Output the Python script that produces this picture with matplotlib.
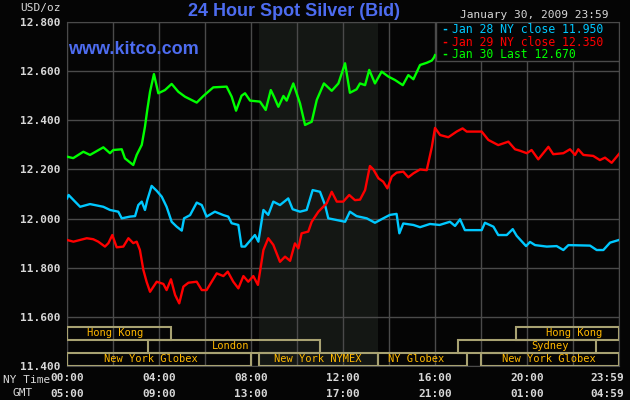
import matplotlib
matplotlib.use('Agg')
import matplotlib.pyplot as plt
from matplotlib.patches import Rectangle

# hours since 00:00 NY time, prices in USD/oz
jan28_hours = [0, 0.07, 0.35, 0.57, 1.0, 1.58, 1.87, 2.23, 2.38, 2.74, 2.96, 3.1, 3.25, 3.39, 3.49,
               3.68, 3.9, 4.12, 4.33, 4.55, 4.77, 4.99, 5.09, 5.35, 5.64, 5.86, 6.07, 6.43, 6.8, 7.01,
               7.16, 7.45, 7.59, 7.74, 7.96, 8.17, 8.32, 8.54, 8.75, 8.97, 9.26, 9.62, 9.81, 10.13,
               10.42, 10.68, 11.0, 11.22, 11.36, 11.73, 12.09, 12.3, 12.59, 13.03, 13.39, 13.75,
               14.04, 14.33, 14.45, 14.62, 15.06, 15.35, 15.78, 16.2, 16.65, 16.87, 17.09, 17.3,
               18.03, 18.17, 18.54, 18.75, 19.12, 19.38, 19.55, 19.96, 20.13, 20.35, 20.86, 21.29,
               21.58, 21.8, 22.74, 23.03, 23.32, 23.61, 24.0]
jan28_price = [12.082, 12.096, 12.069, 12.048, 12.059, 12.048, 12.035, 12.028, 12.001, 12.008,
               12.01, 12.055, 12.069, 12.035, 12.075, 12.133, 12.113, 12.089, 12.048, 11.987,
               11.967, 11.951, 12.001, 12.014, 12.065, 12.055, 12.008, 12.028, 12.014, 12.008,
               11.981, 11.974, 11.886, 11.886, 11.91, 11.933, 11.906, 12.035, 12.015, 12.069,
               12.055, 12.082, 12.038, 12.028, 12.035, 12.116, 12.109, 12.055, 12.001, 11.994,
               11.987, 12.028, 12.01, 12.001, 11.983, 12.001, 12.015, 12.019, 11.94, 11.98,
               11.974, 11.965, 11.978, 11.974, 11.987, 11.97, 11.997, 11.953, 11.953, 11.983,
               11.967, 11.933, 11.933, 11.957, 11.93, 11.888, 11.905, 11.892, 11.886, 11.888,
               11.872, 11.892, 11.89, 11.872, 11.872, 11.902, 11.913]

jan29_hours = [0, 0.28, 0.57, 0.86, 1.14, 1.36, 1.65, 1.8, 1.97, 2.16, 2.45, 2.67, 2.88, 3.03,
               3.17, 3.32, 3.46, 3.61, 3.9, 4.19, 4.33, 4.52, 4.7, 4.88, 5.06, 5.28, 5.64, 5.86,
               6.07, 6.51, 6.8, 6.99, 7.23, 7.45, 7.67, 7.88, 8.1, 8.3, 8.54, 8.75, 8.97, 9.26,
               9.48, 9.7, 9.91, 10.06, 10.2, 10.49, 10.64, 10.93, 11.14, 11.29, 11.51, 11.73,
               12.01, 12.27, 12.52, 12.74, 12.96, 13.17, 13.32, 13.54, 13.75, 13.93, 14.12, 14.33,
               14.62, 14.84, 15.06, 15.35, 15.64, 15.86, 16.0, 16.22, 16.58, 16.94, 17.2, 17.38,
               18.03, 18.32, 18.75, 19.19, 19.48, 19.7, 19.99, 20.2, 20.49, 20.93, 21.14, 21.58,
               21.87, 22.09, 22.23, 22.45, 22.88, 23.17, 23.39, 23.68, 24.0]
jan29_price = [11.913, 11.906, 11.913, 11.92, 11.916, 11.906, 11.886, 11.9, 11.933, 11.883,
               11.886, 11.92, 11.9, 11.906, 11.872, 11.791, 11.743, 11.702, 11.743, 11.734,
               11.709, 11.753, 11.689, 11.655, 11.723, 11.739, 11.743, 11.709, 11.709, 11.777,
               11.766, 11.784, 11.743, 11.716, 11.766, 11.743, 11.766, 11.73, 11.872, 11.92,
               11.893, 11.824, 11.845, 11.828, 11.899, 11.879, 11.94, 11.947, 11.987, 12.028,
               12.048, 12.062, 12.109, 12.069, 12.069, 12.096, 12.075, 12.077, 12.116, 12.214,
               12.2, 12.164, 12.15, 12.123, 12.171, 12.187, 12.191, 12.168, 12.184, 12.2,
               12.197, 12.29, 12.369, 12.34, 12.331, 12.354, 12.367, 12.354, 12.354, 12.32,
               12.299, 12.313, 12.282, 12.276, 12.266, 12.279, 12.241, 12.292, 12.262, 12.266,
               12.282, 12.259, 12.282, 12.259, 12.255, 12.238, 12.248, 12.227, 12.263]

jan30_hours = [0, 0.27, 0.71, 1.0, 1.58, 1.87, 2.01, 2.38, 2.52, 2.88, 3.03, 3.25, 3.39, 3.49,
               3.61, 3.78, 3.97, 4.26, 4.55, 4.84, 5.13, 5.64, 5.93, 6.36, 6.94, 7.16, 7.35, 7.59,
               7.74, 7.96, 8.39, 8.64, 8.86, 9.0, 9.19, 9.41, 9.55, 9.84, 10.13, 10.35, 10.64,
               10.86, 11.17, 11.51, 11.8, 12.09, 12.3, 12.59, 12.74, 12.96, 13.14, 13.39, 13.68,
               13.97, 14.26, 14.6, 14.84, 15.06, 15.35, 15.64, 15.86, 15.96, 16.0]
jan30_price = [12.252, 12.246, 12.272, 12.259, 12.29, 12.266, 12.279, 12.282, 12.245, 12.218,
               12.259, 12.30, 12.374, 12.442, 12.516, 12.588, 12.51, 12.523, 12.548, 12.516,
               12.496, 12.472, 12.499, 12.534, 12.537, 12.496, 12.439, 12.50, 12.51, 12.48,
               12.476, 12.442, 12.523, 12.496, 12.455, 12.499, 12.48, 12.55, 12.469, 12.381,
               12.394, 12.483, 12.55, 12.52, 12.55, 12.632, 12.512, 12.526, 12.55, 12.543,
               12.605, 12.55, 12.598, 12.578, 12.564, 12.543, 12.584, 12.567, 12.625, 12.634,
               12.643, 12.656, 12.665]

legend_labels = ['Jan 28 NY close 11.950', 'Jan 29 NY close 12.350', 'Jan 30 Last 12.670']
series_colors = ['#00c8ff', '#ff0000', '#00ff00']

y_ticks = [11.4, 11.6, 11.8, 12.0, 12.2, 12.4, 12.6, 12.8]
x_tick_hours = [0, 4, 8, 12, 16, 20, 23.5]
ny_labels = ['00:00', '04:00', '08:00', '12:00', '16:00', '20:00', '23:59']
gmt_labels = ['05:00', '09:00', '13:00', '17:00', '21:00', '01:00', '04:59']

# market sessions: (row, start hour, end hour, label, label centre hour)
sessions = [
    (2, 0, 4.5, 'Hong Kong', 2.1),
    (1, 3.5, 11.0, 'London', 7.1),
    (0, 0, 8.0, 'New York Globex', 3.65),
    (0, 8.33, 13.5, 'New York NYMEX', 10.9),
    (0, 13.5, 17.4, 'NY Globex', 15.2),
    (0, 18.0, 24.0, 'New York Globex', 20.95),
    (1, 17.0, 23.0, 'Sydney', 21.0),
    (2, 19.5, 24.0, 'Hong Kong', 22.05),
]
nymex_open, nymex_close = 8.33, 13.5

bg = '#050505'
grid_c = '#4a4a4a'
text_c = '#d8d8d8'
blue = '#4d6cf0'
mono = 'DejaVu Sans Mono'

fig = plt.figure(figsize=(6.3, 4.0), dpi=100, facecolor=bg)
ax = fig.add_axes([67/630, 34/400, 552/630, 344/400], facecolor=bg)

ax.axvspan(nymex_open, nymex_close, color='#141714', zorder=0, lw=0)
for h in range(0, 25, 2):
    ax.axvline(h, color=grid_c, lw=1, zorder=1)
for v in y_ticks:
    ax.axhline(v, color=grid_c, lw=1, zorder=1)

ax.plot(jan28_hours, jan28_price, color=series_colors[0], lw=1.7, zorder=4)
ax.plot(jan29_hours, jan29_price, color=series_colors[1], lw=1.7, zorder=4)
ax.plot(jan30_hours, jan30_price, color=series_colors[2], lw=1.7, zorder=4)

ax.set_xlim(0, 24)
ax.set_ylim(11.4, 12.8)
ax.set_yticks(y_ticks)
ax.set_yticklabels(['%.3f' % v for v in y_ticks], fontfamily=mono, fontsize=8,
                   color=text_c, fontweight='bold')
ax.set_xticks([])
ax.tick_params(axis='y', length=0, pad=5)
for s in ax.spines.values():
    s.set_color(grid_c)

# session boxes
row_h = 0.053
for row, start, end, label, mid in sessions:
    y0 = 11.4 + row * row_h
    ax.add_patch(Rectangle((start, y0), end - start, row_h, fill=False,
                           edgecolor='#a8a272', lw=1.5, zorder=5))
    ax.text(mid, y0 + row_h / 2, label, ha='center', va='center', fontsize=7.5,
            fontfamily=mono, color='#ffb800', zorder=6)

# x labels (two rows)
for h, ny, gmt in zip(x_tick_hours, ny_labels, gmt_labels):
    ax.text(h, -0.035, ny, transform=ax.get_xaxis_transform(), ha='center', va='center',
            fontsize=8, fontfamily=mono, fontweight='bold', color=text_c)
    ax.text(h, -0.082, gmt, transform=ax.get_xaxis_transform(), ha='center', va='center',
            fontsize=8, fontfamily=mono, fontweight='bold', color=text_c)
fig.text(3/630, 1 - 380/400, 'NY Time', fontsize=8, fontfamily=mono, color=text_c, va='center')
fig.text(12/630, 1 - 393/400, 'GMT', fontsize=8, fontfamily=mono, color=text_c, va='center')

# titles
fig.text(294/630, 1 - 11/400, '24 Hour Spot Silver (Bid)', ha='center', va='center',
         fontsize=13, fontweight='bold', fontfamily='Liberation Sans', color=blue)
fig.text(20/630, 1 - 8/400, 'USD/oz', fontsize=8, fontfamily=mono, color=text_c, va='center')
fig.text(608/630, 1 - 15/400, 'January 30, 2009 23:59', ha='right', va='center',
         fontsize=8, fontfamily=mono, color=text_c)
ax.text(0.002, 0.92, 'www.kitco.com', transform=ax.transAxes, ha='left', va='center',
        fontsize=13, fontweight='bold', fontfamily='Liberation Sans', color=blue, zorder=6)

# legend box
lx0, lx1 = (436 - 67) / 552, 1.0
ly0 = (366 - 61) / 344
ax.add_patch(Rectangle((lx0, ly0), lx1 - lx0, 1 - ly0, transform=ax.transAxes,
                       facecolor=bg, edgecolor=grid_c, lw=1, zorder=7))
for i, (lab, col) in enumerate(zip(legend_labels, series_colors)):
    yy = 1 - (7.5 + 12.5 * i) / 344
    ax.text((441 - 67) / 552, yy, '-', transform=ax.transAxes, ha='left', va='center',
            fontsize=8.3, fontfamily=mono, fontweight='bold', color=col, zorder=8)
    ax.text((452 - 67) / 552, yy, lab, transform=ax.transAxes, ha='left', va='center',
            fontsize=8.3, fontfamily=mono, color=col, zorder=8)

fig.savefig('out.png', dpi=100, facecolor=bg)
